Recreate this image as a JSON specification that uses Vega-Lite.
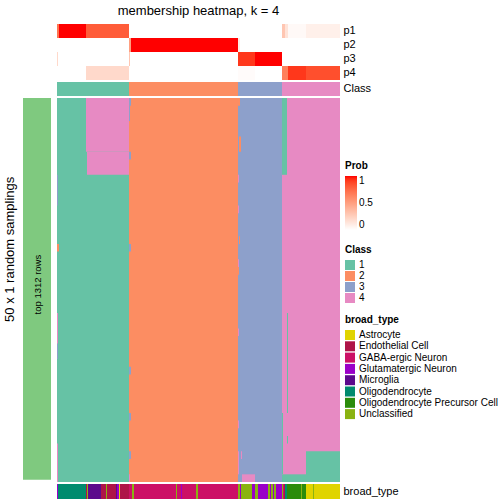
{
  "$schema": "https://vega.github.io/schema/vega-lite/v6.json",
  "padding": {"left": 4, "top": 5, "right": 0, "bottom": 0},
  "config": {
    "view": {"stroke": null},
    "font": "Liberation Sans",
    "legend": {"titleFontSize": 10, "titleFontWeight": "bold", "labelFontSize": 10, "titleColor": "#000000", "labelColor": "#000000", "titleFont": "Liberation Sans", "labelFont": "Liberation Sans"},
    "axis": {"labelColor": "#000000", "labelFont": "Liberation Sans"}
  },
  "datasets": {
    "probs": [
      {"track": "p1", "s": 0, "e": 2, "p": 0.7},
      {"track": "p1", "s": 2, "e": 29, "p": 1.0},
      {"track": "p1", "s": 29, "e": 72, "p": 0.8},
      {"track": "p1", "s": 72, "e": 225, "p": 0.0},
      {"track": "p1", "s": 225, "e": 228, "p": 0.3},
      {"track": "p1", "s": 228, "e": 231, "p": 0.15},
      {"track": "p1", "s": 231, "e": 249, "p": 0.03},
      {"track": "p1", "s": 249, "e": 283, "p": 0.08},
      {"track": "p2", "s": 0, "e": 72, "p": 0.0},
      {"track": "p2", "s": 72, "e": 74, "p": 0.5},
      {"track": "p2", "s": 74, "e": 181, "p": 1.0},
      {"track": "p2", "s": 181, "e": 183, "p": 0.1},
      {"track": "p2", "s": 183, "e": 283, "p": 0.0},
      {"track": "p3", "s": 0, "e": 1, "p": 0.2},
      {"track": "p3", "s": 1, "e": 72, "p": 0.0},
      {"track": "p3", "s": 72, "e": 73, "p": 0.3},
      {"track": "p3", "s": 73, "e": 181, "p": 0.0},
      {"track": "p3", "s": 181, "e": 198, "p": 0.92},
      {"track": "p3", "s": 198, "e": 225, "p": 1.0},
      {"track": "p3", "s": 225, "e": 283, "p": 0.0},
      {"track": "p4", "s": 0, "e": 29, "p": 0.0},
      {"track": "p4", "s": 29, "e": 72, "p": 0.2},
      {"track": "p4", "s": 72, "e": 181, "p": 0.0},
      {"track": "p4", "s": 181, "e": 198, "p": 0.02},
      {"track": "p4", "s": 198, "e": 225, "p": 0.0},
      {"track": "p4", "s": 225, "e": 231, "p": 0.65},
      {"track": "p4", "s": 231, "e": 249, "p": 0.92},
      {"track": "p4", "s": 249, "e": 283, "p": 0.85}
    ],
    "classrow": [
      {"track": "Class", "s": 0, "e": 72, "cls": "1"},
      {"track": "Class", "s": 72, "e": 181, "cls": "2"},
      {"track": "Class", "s": 181, "e": 225, "cls": "3"},
      {"track": "Class", "s": 225, "e": 283, "cls": "4"}
    ],
    "main": [
      {"s": 0, "e": 72, "r0": 0, "r1": 50, "cls": "1"},
      {"s": 72, "e": 181, "r0": 0, "r1": 50, "cls": "2"},
      {"s": 181, "e": 225, "r0": 0, "r1": 50, "cls": "3"},
      {"s": 225, "e": 283, "r0": 0, "r1": 50, "cls": "4"},
      {"s": 29, "e": 72, "r0": 0, "r1": 7, "cls": "4"},
      {"s": 30, "e": 72, "r0": 7, "r1": 10, "cls": "4"},
      {"s": 225, "e": 230, "r0": 0, "r1": 10, "cls": "1"},
      {"s": 249, "e": 283, "r0": 46, "r1": 50, "cls": "1"},
      {"s": 225, "e": 249, "r0": 49, "r1": 50, "cls": "1"},
      {"s": 185, "e": 198, "r0": 49, "r1": 50, "cls": "4"},
      {"s": 72, "e": 74, "r0": 0, "r1": 1, "cls": "3"},
      {"s": 72, "e": 73, "r0": 1, "r1": 3, "cls": "3"},
      {"s": 72, "e": 74, "r0": 7, "r1": 8, "cls": "3"},
      {"s": 72, "e": 74, "r0": 19, "r1": 20, "cls": "3"},
      {"s": 72, "e": 74, "r0": 35, "r1": 36, "cls": "3"},
      {"s": 72, "e": 74, "r0": 41, "r1": 42, "cls": "3"},
      {"s": 72, "e": 74, "r0": 46, "r1": 47, "cls": "3"},
      {"s": 72, "e": 73, "r0": 49, "r1": 50, "cls": "4"},
      {"s": 0, "e": 2, "r0": 19, "r1": 20, "cls": "2"},
      {"s": 0, "e": 1, "r0": 10, "r1": 14, "cls": "3"},
      {"s": 0, "e": 1, "r0": 28, "r1": 32, "cls": "4"},
      {"s": 0, "e": 1, "r0": 32, "r1": 34, "cls": "3"},
      {"s": 0, "e": 1, "r0": 45, "r1": 50, "cls": "4"},
      {"s": 181, "e": 183, "r0": 0, "r1": 1, "cls": "2"},
      {"s": 182, "e": 184, "r0": 5, "r1": 7, "cls": "2"},
      {"s": 182, "e": 183, "r0": 18, "r1": 19, "cls": "2"},
      {"s": 181, "e": 182, "r0": 22, "r1": 23, "cls": "2"},
      {"s": 181, "e": 182, "r0": 10, "r1": 11, "cls": "4"},
      {"s": 181, "e": 182, "r0": 14, "r1": 15, "cls": "4"},
      {"s": 181, "e": 182, "r0": 21, "r1": 22, "cls": "4"},
      {"s": 181, "e": 182, "r0": 30, "r1": 31, "cls": "4"},
      {"s": 181, "e": 182, "r0": 42, "r1": 43, "cls": "4"},
      {"s": 181, "e": 182, "r0": 46, "r1": 49, "cls": "4"},
      {"s": 184, "e": 185, "r0": 46, "r1": 47, "cls": "4"},
      {"s": 230, "e": 231, "r0": 28, "r1": 41, "cls": "1"},
      {"s": 225, "e": 226, "r0": 41, "r1": 49, "cls": "1"},
      {"s": 230, "e": 231, "r0": 44, "r1": 45, "cls": "1"}
    ],
    "broad": [
      {"track": "broad_type", "s": 0, "e": 1, "bt": "Glutamatergic Neuron"},
      {"track": "broad_type", "s": 1, "e": 29, "bt": "Oligodendrocyte"},
      {"track": "broad_type", "s": 29, "e": 30, "bt": "Endothelial Cell"},
      {"track": "broad_type", "s": 30, "e": 31, "bt": "Unclassified"},
      {"track": "broad_type", "s": 31, "e": 44, "bt": "Microglia"},
      {"track": "broad_type", "s": 44, "e": 49, "bt": "Endothelial Cell"},
      {"track": "broad_type", "s": 49, "e": 50, "bt": "Unclassified"},
      {"track": "broad_type", "s": 50, "e": 59, "bt": "Endothelial Cell"},
      {"track": "broad_type", "s": 59, "e": 60, "bt": "Microglia"},
      {"track": "broad_type", "s": 60, "e": 62, "bt": "Glutamatergic Neuron"},
      {"track": "broad_type", "s": 62, "e": 63, "bt": "Astrocyte"},
      {"track": "broad_type", "s": 63, "e": 72, "bt": "Endothelial Cell"},
      {"track": "broad_type", "s": 72, "e": 75, "bt": "GABA-ergic Neuron"},
      {"track": "broad_type", "s": 75, "e": 77, "bt": "Unclassified"},
      {"track": "broad_type", "s": 77, "e": 119, "bt": "GABA-ergic Neuron"},
      {"track": "broad_type", "s": 119, "e": 120, "bt": "Unclassified"},
      {"track": "broad_type", "s": 120, "e": 124, "bt": "GABA-ergic Neuron"},
      {"track": "broad_type", "s": 124, "e": 125, "bt": "Glutamatergic Neuron"},
      {"track": "broad_type", "s": 125, "e": 139, "bt": "GABA-ergic Neuron"},
      {"track": "broad_type", "s": 139, "e": 141, "bt": "Unclassified"},
      {"track": "broad_type", "s": 141, "e": 181, "bt": "GABA-ergic Neuron"},
      {"track": "broad_type", "s": 181, "e": 183, "bt": "Unclassified"},
      {"track": "broad_type", "s": 183, "e": 184, "bt": "Glutamatergic Neuron"},
      {"track": "broad_type", "s": 184, "e": 195, "bt": "Unclassified"},
      {"track": "broad_type", "s": 195, "e": 198, "bt": "Glutamatergic Neuron"},
      {"track": "broad_type", "s": 198, "e": 201, "bt": "Unclassified"},
      {"track": "broad_type", "s": 201, "e": 211, "bt": "Glutamatergic Neuron"},
      {"track": "broad_type", "s": 211, "e": 213, "bt": "Unclassified"},
      {"track": "broad_type", "s": 213, "e": 214, "bt": "Glutamatergic Neuron"},
      {"track": "broad_type", "s": 214, "e": 216, "bt": "Unclassified"},
      {"track": "broad_type", "s": 216, "e": 217, "bt": "Glutamatergic Neuron"},
      {"track": "broad_type", "s": 217, "e": 219, "bt": "Unclassified"},
      {"track": "broad_type", "s": 219, "e": 225, "bt": "Glutamatergic Neuron"},
      {"track": "broad_type", "s": 225, "e": 226, "bt": "Unclassified"},
      {"track": "broad_type", "s": 226, "e": 227, "bt": "GABA-ergic Neuron"},
      {"track": "broad_type", "s": 227, "e": 228, "bt": "Endothelial Cell"},
      {"track": "broad_type", "s": 228, "e": 230, "bt": "Oligodendrocyte"},
      {"track": "broad_type", "s": 230, "e": 244, "bt": "Oligodendrocyte Precursor Cell"},
      {"track": "broad_type", "s": 244, "e": 245, "bt": "Unclassified"},
      {"track": "broad_type", "s": 245, "e": 249, "bt": "Oligodendrocyte Precursor Cell"},
      {"track": "broad_type", "s": 249, "e": 256, "bt": "Astrocyte"},
      {"track": "broad_type", "s": 256, "e": 257, "bt": "Unclassified"},
      {"track": "broad_type", "s": 257, "e": 283, "bt": "Astrocyte"}
    ]
  },
  "spacing": 2,
  "resolve": {"scale": {"color": "independent"}},
  "vconcat": [
    {
      "title": {"text": "membership heatmap, k = 4", "fontSize": 13, "fontWeight": "normal", "font": "Liberation Sans", "anchor": "middle", "dx": 17, "offset": 6, "color": "#000000"},
      "width": 317,
      "height": 56,
      "data": {"name": "probs"},
      "mark": {"type": "rect", "strokeWidth": 0},
      "encoding": {
        "x": {"field": "s", "type": "quantitative", "scale": {"domain": [-34, 283], "nice": false, "zero": false}, "axis": null},
        "x2": {"field": "e"},
        "y": {"field": "track", "type": "nominal", "scale": {"domain": ["p1", "p2", "p3", "p4"], "paddingInner": 0, "paddingOuter": 0}, "axis": {"orient": "right", "title": null, "ticks": false, "domain": false, "labelFontSize": 11, "labelPadding": 3}},
        "color": {"field": "p", "type": "quantitative", "scale": {"domain": [0, 1], "range": ["#ffffff", "#ff0000"], "interpolate": "lab"}, "legend": null}
      }
    },
    {
      "width": 317,
      "height": 14,
      "data": {"name": "classrow"},
      "mark": {"type": "rect", "strokeWidth": 0},
      "encoding": {
        "x": {"field": "s", "type": "quantitative", "scale": {"domain": [-34, 283], "nice": false, "zero": false}, "axis": null},
        "x2": {"field": "e"},
        "y": {"field": "track", "type": "nominal", "scale": {"paddingInner": 0, "paddingOuter": 0}, "axis": {"orient": "right", "title": null, "ticks": false, "domain": false, "labelFontSize": 11, "labelPadding": 3}},
        "color": {"field": "cls", "type": "nominal", "scale": {"domain": ["1", "2", "3", "4"], "range": ["#66C2A5", "#FC8D62", "#8DA0CB", "#E78AC3"]}, "legend": null}
      }
    },
    {
      "width": 317,
      "height": 384,
      "resolve": {"scale": {"color": "independent"}},
      "layer": [
        {
          "data": {"name": "main"},
          "mark": {"type": "rect", "strokeWidth": 0},
          "encoding": {
            "x": {"field": "s", "type": "quantitative", "scale": {"domain": [-34, 283], "nice": false, "zero": false}, "axis": null},
            "x2": {"field": "e"},
            "y": {"field": "r0", "type": "quantitative", "scale": {"domain": [0, 50], "nice": false, "zero": false, "reverse": true}, "axis": null},
            "y2": {"field": "r1"},
            "color": {"field": "cls", "type": "nominal", "title": "Class", "scale": {"domain": ["1", "2", "3", "4"], "range": ["#66C2A5", "#FC8D62", "#8DA0CB", "#E78AC3"]}, "legend": {"orient": "none", "legendX": 322, "legendY": 147, "symbolType": "square", "symbolSize": 100, "symbolStrokeWidth": 0, "rowPadding": 1, "titlePadding": 5}}
          }
        },
        {
          "data": {"name": "probs"},
          "mark": {"type": "rect", "strokeWidth": 0, "opacity": 0},
          "encoding": {
            "x": {"field": "s", "type": "quantitative"},
            "x2": {"field": "e"},
            "y": {"datum": 0, "type": "quantitative"},
            "y2": {"datum": 0},
            "color": {"field": "p", "type": "quantitative", "title": "Prob", "scale": {"domain": [0, 1], "range": ["#ffffff", "#ff0000"], "interpolate": "lab"}, "legend": {"orient": "none", "legendX": 322, "legendY": 63, "direction": "vertical", "gradientLength": 54, "gradientThickness": 12, "values": [0, 0.5, 1], "format": "~g", "titlePadding": 5, "gradientStrokeWidth": 0, "gradientOpacity": 1}}
          }
        },
        {
          "data": {"name": "broad"},
          "mark": {"type": "rect", "strokeWidth": 0, "opacity": 0},
          "encoding": {
            "x": {"field": "s", "type": "quantitative"},
            "x2": {"field": "e"},
            "y": {"datum": 0, "type": "quantitative"},
            "y2": {"datum": 0},
            "color": {"field": "bt", "type": "nominal", "title": "broad_type", "scale": {"domain": ["Astrocyte", "Endothelial Cell", "GABA-ergic Neuron", "Glutamatergic Neuron", "Microglia", "Oligodendrocyte", "Oligodendrocyte Precursor Cell", "Unclassified"], "range": ["#E0D400", "#AE1448", "#CC1066", "#9A00C8", "#5C0A8C", "#008B6E", "#2B8C0B", "#8AB311"]}, "legend": {"orient": "none", "legendX": 322, "legendY": 217, "symbolType": "square", "symbolSize": 100, "symbolStrokeWidth": 0, "symbolOpacity": 1, "rowPadding": 1.3, "titlePadding": 5, "labelLimit": 200}}
          }
        },
        {
          "data": {"values": [{}]},
          "mark": {"type": "rect", "color": "#7FC97F", "strokeWidth": 0},
          "encoding": {
            "x": {"datum": -34, "type": "quantitative"},
            "x2": {"datum": -6},
            "y": {"datum": 0, "type": "quantitative"},
            "y2": {"datum": 49.7}
          }
        },
        {
          "data": {"values": [{}]},
          "mark": {"type": "text", "angle": 270, "fontSize": 9.5, "text": "top 1312 rows", "color": "#000000", "align": "center", "baseline": "middle"},
          "encoding": {
            "x": {"datum": -19, "type": "quantitative"},
            "y": {"datum": 24.3, "type": "quantitative"}
          }
        },
        {
          "data": {"values": [{}]},
          "mark": {"type": "text", "angle": 270, "fontSize": 13, "text": "50 x 1 random samplings", "color": "#000000", "align": "center", "baseline": "middle"},
          "encoding": {
            "x": {"datum": -47, "type": "quantitative"},
            "y": {"datum": 19.7, "type": "quantitative"}
          }
        }
      ]
    },
    {
      "width": 317,
      "height": 15,
      "data": {"name": "broad"},
      "mark": {"type": "rect", "strokeWidth": 0},
      "encoding": {
        "x": {"field": "s", "type": "quantitative", "scale": {"domain": [-34, 283], "nice": false, "zero": false}, "axis": null},
        "x2": {"field": "e"},
        "y": {"field": "track", "type": "nominal", "scale": {"paddingInner": 0, "paddingOuter": 0}, "axis": {"orient": "right", "title": null, "ticks": false, "domain": false, "labelFontSize": 11, "labelPadding": 3}},
        "color": {"field": "bt", "type": "nominal", "scale": {"domain": ["Astrocyte", "Endothelial Cell", "GABA-ergic Neuron", "Glutamatergic Neuron", "Microglia", "Oligodendrocyte", "Oligodendrocyte Precursor Cell", "Unclassified"], "range": ["#E0D400", "#AE1448", "#CC1066", "#9A00C8", "#5C0A8C", "#008B6E", "#2B8C0B", "#8AB311"]}, "legend": null}
      }
    }
  ]
}
